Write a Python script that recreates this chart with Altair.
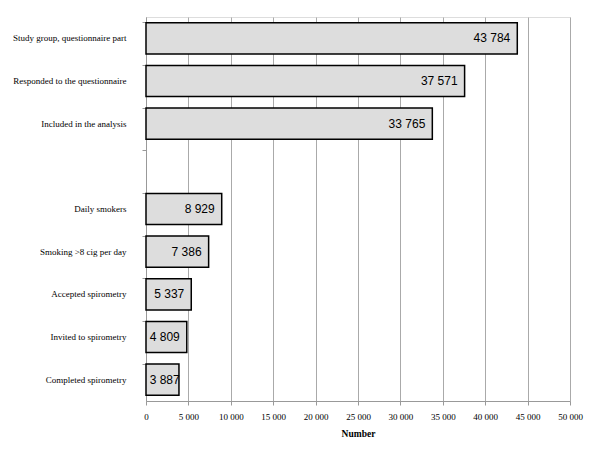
import altair as alt
import pandas as pd

categories = [
    "Study group, questionnaire part",
    "Responded to the questionnaire",
    "Included in the analysis",
    " ",
    "Daily smokers",
    "Smoking >8 cig per day",
    "Accepted spirometry",
    "Invited to spirometry",
    "Completed spirometry",
]
values = [43784, 37571, 33765, None, 8929, 7386, 5337, 4809, 3887]
labels = ["43 784", "37 571", "33 765", "", "8 929", "7 386", "5 337", "4 809", "3 887"]

df = pd.DataFrame({"cat": categories, "value": values, "label": labels})

y_enc = alt.Y(
    "cat:N",
    sort=categories,
    title=None,
    scale=alt.Scale(domain=categories, paddingInner=0.27, paddingOuter=0.135),
    axis=alt.Axis(
        bandPosition=0,
        labelFont="Liberation Serif",
        labelFontSize=9,
        labelColor="black",
        labelPadding=16,
        tickSize=4,
        tickColor="#999999",
        domainColor="#999999",
        grid=False,
    ),
)

x_enc = alt.X(
    "value:Q",
    title="Number",
    scale=alt.Scale(domain=[0, 50000], nice=False),
    axis=alt.Axis(
        values=list(range(0, 50001, 5000)),
        labelExpr="replace(format(datum.value, ','), ',', ' ')",
        labelFont="Liberation Serif",
        labelFontSize=9,
        labelColor="black",
        labelPadding=7,
        labelFlush=False,
        titleFont="Liberation Serif",
        titleFontSize=9.5,
        titleFontWeight="bold",
        titleColor="black",
        titlePadding=7,
        tickSize=4,
        tickColor="#999999",
        domainColor="#999999",
        grid=True,
        gridColor="#aaaaaa",
        gridWidth=1,
    ),
)

base = alt.Chart(df).transform_filter("isValid(datum.value)")

bars = base.mark_bar(
    fill="#dddddd", stroke="black", strokeWidth=1.5
).encode(x=x_enc, y=y_enc)

text = base.transform_calculate(
    lx="max(datum.value, 4800)"
).mark_text(
    align="right", baseline="middle", dx=-7, font="Liberation Sans", fontSize=12, color="black"
).encode(
    x=alt.X("lx:Q"),
    y=alt.Y("cat:N", sort=categories),
    text="label:N",
)

chart = (
    alt.layer(bars, text)
    .properties(
        width=424,
        height=384,
        autosize=alt.AutoSizeParams(type="none"),
        padding={"left": 138, "top": 9, "right": 22, "bottom": 41},
    )
    .configure_view(stroke=None)
    .configure(background="white")
)

chart.save("out.html", embed_options={"renderer": "svg", "actions": False})
